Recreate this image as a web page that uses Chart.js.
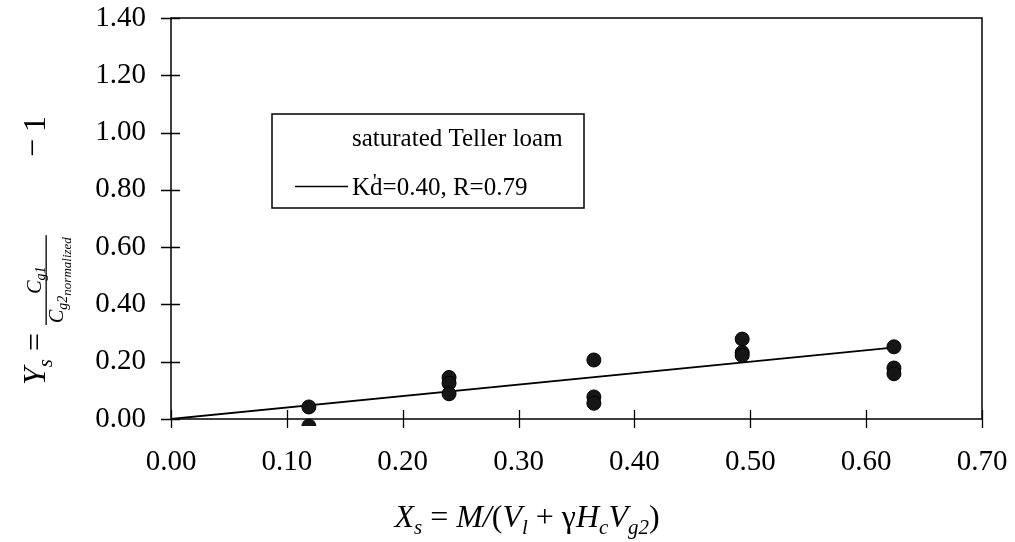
<!DOCTYPE html>
<html>
<head>
<meta charset="utf-8">
<script src="https://cdn.jsdelivr.net/npm/chart.js@4.4.1/dist/chart.umd.min.js"></script>
<style>
  html, body { margin: 0; padding: 0; background: #fff; }
  #c { display: block; }
</style>
</head>
<body>
<canvas id="c" width="1015" height="542"></canvas>
<script>
// Measured sorption points (X_s, Y_s) for saturated Teller loam
const sampleX = [0.119, 0.119, 0.240, 0.240, 0.240, 0.365, 0.365, 0.365, 0.493, 0.493, 0.493, 0.624, 0.624, 0.624];
const sampleY = [0.042, -0.025, 0.145, 0.125, 0.088, 0.206, 0.077, 0.055, 0.279, 0.232, 0.222, 0.252, 0.178, 0.158];

// Linear fit through the origin, slope K'd = 0.40
const fitX = [0.000, 0.623];
const fitY = [0.000, 0.249];

const seriesLabels = ['saturated Teller loam', "K'd=0.40, R=0.79"];

// Axis ticks
const xTickValues = [0.0, 0.1, 0.2, 0.3, 0.4, 0.5, 0.6, 0.7];
const xTickLabels = ['0.00', '0.10', '0.20', '0.30', '0.40', '0.50', '0.60', '0.70'];
const yTickValues = [0.0, 0.2, 0.4, 0.6, 0.8, 1.0, 1.2, 1.4];
const yTickLabels = ['0.00', '0.20', '0.40', '0.60', '0.80', '1.00', '1.20', '1.40'];

const SERIF = '"Liberation Serif", "DejaVu Serif", serif';

// Plot frame with tick marks crossing both axes
const framePlugin = {
  id: 'frame',
  beforeDatasetsDraw(chart) {
    const { ctx, chartArea: a, scales: { x, y } } = chart;
    ctx.save();
    ctx.strokeStyle = '#000';
    ctx.lineWidth = 1.5;
    ctx.strokeRect(a.left, a.top, a.right - a.left, a.bottom - a.top);
    ctx.lineWidth = 1.3;
    ctx.beginPath();
    xTickValues.forEach(v => {
      const px = Math.round(x.getPixelForValue(v)) + 0.5;
      ctx.moveTo(px, a.bottom - 9);
      ctx.lineTo(px, a.bottom + 9);
    });
    yTickValues.forEach(v => {
      const py = Math.round(y.getPixelForValue(v)) + 0.5;
      ctx.moveTo(a.left - 10, py);
      ctx.lineTo(a.left + 9, py);
    });
    ctx.stroke();
    ctx.restore();
  }
};

// Boxed legend inside the plot
const legendPlugin = {
  id: 'boxLegend',
  afterDraw(chart) {
    const { ctx } = chart;
    const ds = chart.data.datasets;
    const box = { l: 272, t: 114, r: 584, b: 208 };
    ctx.save();
    ctx.fillStyle = '#fff';
    ctx.fillRect(box.l, box.t, box.r - box.l, box.b - box.t);
    ctx.strokeStyle = '#000';
    ctx.lineWidth = 1.5;
    ctx.strokeRect(box.l, box.t, box.r - box.l, box.b - box.t);
    ctx.fillStyle = '#000';
    ctx.font = '25px ' + SERIF;
    ctx.textAlign = 'left';
    ctx.textBaseline = 'alphabetic';
    ctx.fillText(ds[0].label, 352, 146);

    // fit line sample
    ctx.beginPath();
    ctx.lineWidth = 1.7;
    ctx.moveTo(295, 186.5);
    ctx.lineTo(348, 186.5);
    ctx.stroke();

    // "K'd=..." with the prime set over the d
    const lbl = ds[1].label;
    const k = lbl.slice(0, 1);
    const rest = lbl.slice(2);
    const base = 195;
    ctx.fillText(k, 352, base);
    const kw = ctx.measureText(k).width;
    ctx.fillText(rest, 352 + kw, base);
    ctx.font = '20px ' + SERIF;
    ctx.fillText(lbl.charAt(1), 352 + kw + 3, base - 7);
    ctx.restore();
  }
};

// Draws a run of text pieces with their own fonts and baseline offsets
function measureRun(ctx, pieces) {
  let w = 0;
  pieces.forEach(p => { ctx.font = p.font; w += ctx.measureText(p.t).width; });
  return w;
}
function drawRun(ctx, pieces, x, y) {
  let cx = x;
  pieces.forEach(p => {
    ctx.font = p.font;
    ctx.fillText(p.t, cx, y + (p.dy || 0));
    cx += ctx.measureText(p.t).width;
  });
  return cx;
}

const IT32 = 'italic 32px ' + SERIF;
const RM32 = '32px ' + SERIF;
const IT21 = 'italic 21px ' + SERIF;
const IT20 = 'italic 20px ' + SERIF;
const IT14 = 'italic 14px ' + SERIF;
const IT13 = 'italic 13px ' + SERIF;

const axisTitlePlugin = {
  id: 'axisTitles',
  afterDraw(chart) {
    const { ctx } = chart;
    ctx.save();
    ctx.fillStyle = '#000';
    ctx.textAlign = 'left';
    ctx.textBaseline = 'alphabetic';

    // X_s = M/(V_l + γH_cV_g2)
    const xt = [
      { t: 'X', font: IT32 }, { t: 's', font: IT21, dy: 7 },
      { t: ' = ', font: RM32 }, { t: 'M', font: IT32 }, { t: '/', font: IT32 },
      { t: '(', font: RM32 }, { t: 'V', font: IT32 }, { t: 'l', font: IT21, dy: 7 },
      { t: ' + ', font: RM32 }, { t: 'γ', font: RM32 }, { t: 'H', font: IT32 },
      { t: 'c', font: IT21, dy: 7 }, { t: 'V', font: IT32 }, { t: 'g2', font: IT21, dy: 7 },
      { t: ')', font: RM32 }
    ];
    const xw = measureRun(ctx, xt);
    drawRun(ctx, xt, 527 - xw / 2, 527);

    // Y_s = C_g1 / C_g2normalized − 1, rotated
    ctx.translate(45, 385);
    ctx.rotate(-Math.PI / 2);
    const u = drawRun(ctx, [
      { t: 'Y', font: IT32 }, { t: 's', font: IT21, dy: 7 }, { t: ' = ', font: RM32 }
    ], 0, 0);
    const num = [{ t: 'C', font: IT20 }, { t: 'g1', font: IT14, dy: 4 }];
    const den = [{ t: 'C', font: IT20 }, { t: 'g2', font: IT14, dy: 4 }, { t: 'normalized', font: IT13, dy: 8 }];
    const nw = measureRun(ctx, num);
    const dw = measureRun(ctx, den);
    const fw = Math.max(nw, dw) + 4;
    ctx.fillRect(u, 0.5, fw, 1.3);
    drawRun(ctx, num, u + (fw - nw) / 2, -4);
    drawRun(ctx, den, u + (fw - dw) / 2, 18);
    drawRun(ctx, [{ t: '\u2212', font: RM32 }], 228, -2);
    drawRun(ctx, [{ t: '1', font: RM32 }], 253, 0);
    ctx.restore();
  }
};

const points = sampleX.map((x, i) => ({ x, y: sampleY[i] }));
const fitLine = fitX.map((x, i) => ({ x, y: fitY[i] }));

// keep the plot rectangle fixed: no extra room for label overhang
function noOverhang(s) {
  s.paddingLeft = 0; s.paddingRight = 0; s.paddingTop = 0; s.paddingBottom = 0;
}

new Chart(document.getElementById('c'), {
  type: 'scatter',
  data: {
    datasets: [
      {
        label: seriesLabels[0],
        data: points,
        pointRadius: 7,
        pointHoverRadius: 7,
        pointBackgroundColor: '#161616',
        pointBorderColor: '#000',
        pointBorderWidth: 1,
        showLine: false,
        clip: { left: false, top: false, right: false, bottom: 7 }
      },
      {
        type: 'line',
        label: seriesLabels[1],
        data: fitLine,
        borderColor: '#000',
        borderWidth: 1.8,
        pointRadius: 0,
        fill: false,
        tension: 0
      }
    ]
  },
  options: {
    responsive: false,
    devicePixelRatio: 1,
    animation: false,
    events: [],
    layout: { padding: { top: 18, right: 33, left: 0, bottom: 0 } },
    plugins: {
      legend: { display: false },
      tooltip: { enabled: false },
      title: { display: false }
    },
    scales: {
      x: {
        type: 'linear',
        min: 0,
        max: 0.7,
        afterBuildTicks: s => { s.ticks = xTickValues.map(v => ({ value: v })); },
        afterFit: s => { s.height = 123; noOverhang(s); },
        ticks: {
          callback: (v, i) => xTickLabels[i],
          font: { family: SERIF, size: 29 },
          color: '#000',
          padding: 26,
          maxRotation: 0,
          autoSkip: false
        },
        grid: { display: false, drawTicks: false },
        border: { display: false }
      },
      y: {
        type: 'linear',
        min: 0,
        max: 1.4,
        afterBuildTicks: s => { s.ticks = yTickValues.map(v => ({ value: v })); },
        afterFit: s => { s.width = 171; noOverhang(s); },
        ticks: {
          callback: (v, i) => yTickLabels[i],
          font: { family: SERIF, size: 29 },
          color: '#000',
          padding: 25,
          autoSkip: false
        },
        grid: { display: false, drawTicks: false },
        border: { display: false }
      }
    }
  },
  plugins: [framePlugin, legendPlugin, axisTitlePlugin]
});
</script>
</body>
</html>
